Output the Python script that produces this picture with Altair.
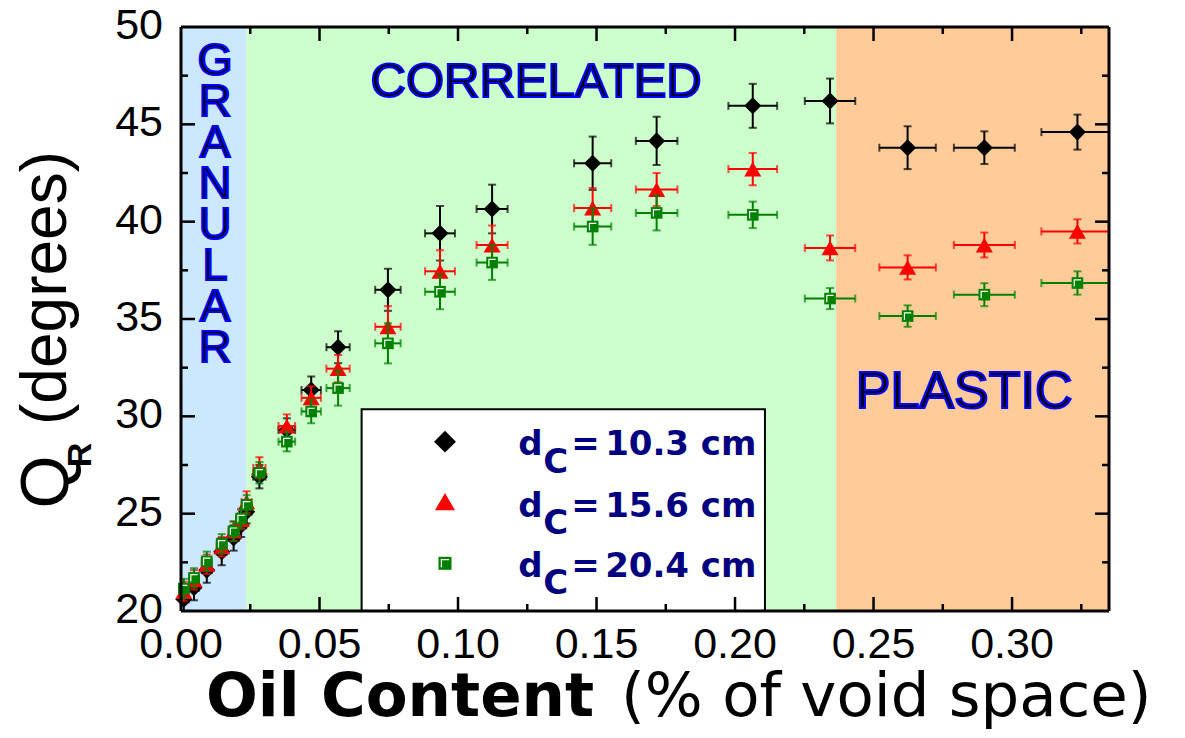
import altair as alt
import pandas as pd

# ---------------- data ----------------
oil = [0.0010, 0.0047, 0.0093, 0.0147, 0.0190, 0.0217, 0.0237, 0.0283, 0.0382, 0.0470,
       0.0567, 0.0747, 0.0935, 0.1123, 0.1486, 0.1717, 0.2064, 0.2343, 0.2623, 0.2900, 0.3236]
oil_err = [0.0018, 0.0018, 0.0018, 0.0018, 0.0018, 0.0018, 0.0018, 0.0022, 0.0030, 0.0035,
           0.0042, 0.0046, 0.0054, 0.0056, 0.0067, 0.0075, 0.0088, 0.0091, 0.0102, 0.0110, 0.0130]

theta_103 = [20.6, 21.2, 22.1, 23.05, 23.75, 24.4, 25.1, 26.9, 29.3, 31.35,
             33.55, 36.5, 39.4, 40.65, 43.0, 44.15, 45.95, 46.2, 43.8, 43.8, 44.6]
err_103 = [0.6, 0.65, 0.65, 0.7, 0.65, 0.6, 0.6, 0.6, 0.6, 0.7,
           0.82, 1.08, 1.4, 1.25, 1.37, 1.24, 1.13, 1.15, 1.1, 0.84, 0.9]

theta_156 = [21.0, 21.6, 22.4, 23.3, 24.1, 24.7, 25.6, 27.35, 29.5, 30.95,
             32.45, 34.6, 37.45, 38.8, 40.7, 41.65, 42.7, 38.65, 37.65, 38.8, 39.5]
err_156 = [0.5, 0.5, 0.5, 0.5, 0.5, 0.5, 0.55, 0.55, 0.6, 0.6,
           0.7, 1.06, 1.08, 1.0, 1.03, 0.85, 0.83, 0.64, 0.62, 0.64, 0.62]

theta_204 = [21.15, 21.7, 22.55, 23.45, 24.1, 24.75, 25.45, 27.1, 28.7, 30.25,
             31.45, 33.75, 36.4, 37.9, 39.75, 40.45, 40.35, 36.05, 35.15, 36.25, 36.85]
err_204 = [0.5, 0.5, 0.5, 0.5, 0.5, 0.5, 0.5, 0.55, 0.5, 0.6,
           0.9, 1.03, 0.9, 0.89, 0.94, 0.9, 0.68, 0.54, 0.55, 0.59, 0.6]

series_labels = ["10.3 cm", "15.6 cm", "20.4 cm"]
series_colors = ["#000000", "#FF0000", "#008000"]
series_shapes = ["diamond", "triangle-up", "square"]
series_sizes = [290, 290, 135]
legend_sizes = [480, 400, 170]

region_names = ["GRANULAR", "CORRELATED", "PLASTIC"]
region_bounds = [0.0, 0.0235, 0.2365, 0.335]
region_colors = ["#CCE8FF", "#CCFFCC", "#FFCC99"]

x_tick_labels = [0.00, 0.05, 0.10, 0.15, 0.20, 0.25, 0.30]
y_tick_labels = [20, 25, 30, 35, 40, 45, 50]
x_major = [0.05, 0.10, 0.15, 0.20, 0.25, 0.30]
x_minor = [0.025, 0.075, 0.125, 0.175, 0.225, 0.275, 0.325]
y_major = [25, 30, 35, 40, 45]
y_minor = [22.5, 27.5, 32.5, 37.5, 42.5, 47.5]

x_title_parts = ["Oil Content", "(% of void space)"]
y_title_parts = ["Q", "R", "(degrees)"]

# ---------------- layout ----------------
W, H = 928, 584
xs = alt.Scale(domain=[0, 0.335], nice=False, zero=False)
ys = alt.Scale(domain=[20, 50], nice=False, zero=False)
NAVY = "#000080"
SQUARE_GLINT = "M-0.55,0.62L-0.55,-0.55L0.62,-0.55"


def X(f):
    return alt.X(f"{f}:Q", scale=xs, axis=None)


def Y(f):
    return alt.Y(f"{f}:Q", scale=ys, axis=None)


layers = []

# region backgrounds
bg = pd.DataFrame({"x0": region_bounds[:-1], "x1": region_bounds[1:],
                   "y0": [20] * 3, "y1": [50] * 3, "c": region_colors})
layers.append(alt.Chart(bg).mark_rect().encode(
    x=X("x0"), x2="x1:Q", y=Y("y0"), y2="y1:Q",
    fill=alt.Fill("c:N", scale=None)))

# legend box
lbox = pd.DataFrame({"x0": [0.0652], "x1": [0.2108], "y0": [20], "y1": [30.36]})
layers.append(alt.Chart(lbox).mark_rect(fill="white", stroke="black", strokeWidth=2).encode(
    x=X("x0"), x2="x1:Q", y=Y("y0"), y2="y1:Q"))

# region labels
outline = dict(fill="black", stroke="#0000FF", strokeWidth=2.2, font="Liberation Sans")
gran = pd.DataFrame({"x": [0.01227], "y": [48.25], "t": ["\n".join(region_names[0])]})
layers.append(alt.Chart(gran).mark_text(fontSize=45, lineBreak="\n", lineHeight=41,
                                        align="center", baseline="middle", **outline).encode(
    x=X("x"), y=Y("y"), text="t:N"))
corr = pd.DataFrame({"x": [0.1282], "y": [47.18], "t": [region_names[1]]})
layers.append(alt.Chart(corr).mark_text(fontSize=49, align="center", baseline="middle",
                                        **outline).encode(x=X("x"), y=Y("y"), text="t:N"))
plas = pd.DataFrame({"x": [0.2827], "y": [31.25], "t": [region_names[2]]})
layers.append(alt.Chart(plas).mark_text(fontSize=52, align="center", baseline="middle",
                                        **outline).encode(x=X("x"), y=Y("y"), text="t:N"))

# data series
for ys_vals, es_vals, col, shp, sz in zip([theta_103, theta_156, theta_204],
                                          [err_103, err_156, err_204],
                                          series_colors, series_shapes, series_sizes):
    df = pd.DataFrame({"x": oil, "y": ys_vals})
    df["xlo"] = [a - b for a, b in zip(oil, oil_err)]
    df["xhi"] = [a + b for a, b in zip(oil, oil_err)]
    df["ylo"] = [a - b for a, b in zip(ys_vals, es_vals)]
    df["yhi"] = [a + b for a, b in zip(ys_vals, es_vals)]
    base = alt.Chart(df)
    layers.append(base.mark_rule(color=col, strokeWidth=2, clip=True).encode(
        x=X("xlo"), x2="xhi:Q", y=Y("y")))
    layers.append(base.mark_rule(color=col, strokeWidth=2, clip=True).encode(
        x=X("x"), y=Y("ylo"), y2="yhi:Q"))
    for f in ["xlo", "xhi"]:
        layers.append(base.mark_tick(orient="vertical", size=8, thickness=2, color=col,
                                     clip=True).encode(x=X(f), y=Y("y")))
    for f in ["ylo", "yhi"]:
        layers.append(base.mark_tick(orient="horizontal", size=8, thickness=2, color=col,
                                     clip=True).encode(x=X("x"), y=Y(f)))
    layers.append(base.mark_point(shape=shp, size=sz, filled=True, opacity=1, color=col,
                                  strokeWidth=0).encode(x=X("x"), y=Y("y")))
    if shp == "square":
        layers.append(base.mark_point(shape=SQUARE_GLINT, size=sz, filled=False, opacity=1,
                                      color="white", strokeWidth=1.2).encode(
            x=X("x"), y=Y("y")))

# legend content
lsym = pd.DataFrame({"x": [0.0953] * 3, "y": [28.7, 25.62, 22.45],
                     "shape": series_shapes, "col": series_colors, "size": legend_sizes})
layers.append(alt.Chart(lsym).mark_point(filled=True, opacity=1, strokeWidth=0).encode(
    x=X("x"), y=Y("y"), shape=alt.Shape("shape:N", scale=None),
    color=alt.Color("col:N", scale=None), size=alt.Size("size:Q", scale=None)))
layers.append(alt.Chart(lsym.iloc[[2]]).mark_point(shape=SQUARE_GLINT, filled=False, opacity=1,
                                                   color="white", strokeWidth=1.3).encode(
    x=X("x"), y=Y("y"), size=alt.Size("size:Q", scale=None)))
ltxt = pd.DataFrame({"x": [0.1217] * 3, "y": [28.02, 24.85, 21.77], "v": series_labels,
                     "d": ["d"] * 3, "c": ["C"] * 3, "e": ["="] * 3})
lfont = dict(font="DejaVu Sans", fontWeight="bold", fontSize=34, color=NAVY,
             align="left", baseline="alphabetic")
for field, dx, dy in [("d", 0, 0), ("c", 25, 17.7), ("e", 53, 0), ("v", 87, 0)]:
    layers.append(alt.Chart(ltxt).mark_text(dx=dx, dy=dy, **lfont).encode(
        x=X("x"), y=Y("y"), text=f"{field}:N"))

# inward ticks on all four sides
for vals, ln in [(x_major, 14), (x_minor, 7)]:
    tdf = pd.DataFrame({"t": vals})
    layers.append(alt.Chart(tdf).mark_rule(color="black", strokeWidth=2.5).encode(
        x=X("t"), y=alt.value(H), y2=alt.value(H - ln)))
    layers.append(alt.Chart(tdf).mark_rule(color="black", strokeWidth=2.5).encode(
        x=X("t"), y=alt.value(0), y2=alt.value(ln)))
for vals, ln in [(y_major, 14), (y_minor, 7)]:
    tdf = pd.DataFrame({"t": vals})
    layers.append(alt.Chart(tdf).mark_rule(color="black", strokeWidth=2.5).encode(
        y=Y("t"), x=alt.value(0), x2=alt.value(ln)))
    layers.append(alt.Chart(tdf).mark_rule(color="black", strokeWidth=2.5).encode(
        y=Y("t"), x=alt.value(W), x2=alt.value(W - ln)))

# frame
frame = pd.DataFrame({"k": [0]})
for enc in [dict(x=alt.value(0), y=alt.value(0), y2=alt.value(H)),
            dict(x=alt.value(W), y=alt.value(0), y2=alt.value(H)),
            dict(y=alt.value(0), x=alt.value(0), x2=alt.value(W)),
            dict(y=alt.value(H), x=alt.value(0), x2=alt.value(W))]:
    layers.append(alt.Chart(frame).mark_rule(color="black", strokeWidth=3).encode(**enc))

# tick labels
xl = pd.DataFrame({"v": x_tick_labels})
layers.append(alt.Chart(xl).mark_text(font="Liberation Sans", fontSize=43, color="black",
                                      align="center", baseline="alphabetic").encode(
    x=X("v"), y=alt.value(H + 47), text=alt.Text("v:Q", format=".2f")))
yl = pd.DataFrame({"v": y_tick_labels})
layers.append(alt.Chart(yl).mark_text(font="Liberation Sans", fontSize=43, color="black",
                                      align="right", baseline="middle", dy=-1).encode(
    y=Y("v"), x=alt.value(-18), text=alt.Text("v:Q", format="d")))

# axis titles (rich text pieces)
xt = pd.DataFrame({"a": [x_title_parts[0]], "b": [x_title_parts[1]]})
layers.append(alt.Chart(xt).mark_text(font="DejaVu Sans", fontWeight="bold", fontSize=61,
                                      align="left", baseline="alphabetic", color="black").encode(
    x=alt.value(25), y=alt.value(689), text="a:N"))
layers.append(alt.Chart(xt).mark_text(font="DejaVu Sans", fontSize=61, align="left",
                                      baseline="alphabetic", color="black").encode(
    x=alt.value(440), y=alt.value(689), text="b:N"))
yt = pd.DataFrame({"q": [y_title_parts[0]], "r": [y_title_parts[1]], "d": [y_title_parts[2]]})
layers.append(alt.Chart(yt).mark_text(font="Liberation Sans", fontSize=68, angle=270,
                                      align="center", baseline="alphabetic", color="black").encode(
    x=alt.value(-113), y=alt.value(455), text="q:N"))
layers.append(alt.Chart(yt).mark_text(font="Liberation Sans", fontWeight="bold", fontSize=34,
                                      angle=270, align="center", baseline="alphabetic",
                                      color="black").encode(
    x=alt.value(-90), y=alt.value(428), text="r:N"))
layers.append(alt.Chart(yt).mark_text(font="Liberation Sans", fontSize=64, angle=270,
                                      align="center", baseline="alphabetic", color="black").encode(
    x=alt.value(-115), y=alt.value(261), text="d:N"))

chart = alt.layer(*layers).properties(
    width=W, height=H,
    autosize=alt.AutoSizeParams(type="none"),
    padding={"left": 173, "top": 19, "right": 60, "bottom": 119},
    background="white",
).configure_view(stroke=None)

chart.save("out.html", embed_options={"renderer": "svg", "actions": False})
